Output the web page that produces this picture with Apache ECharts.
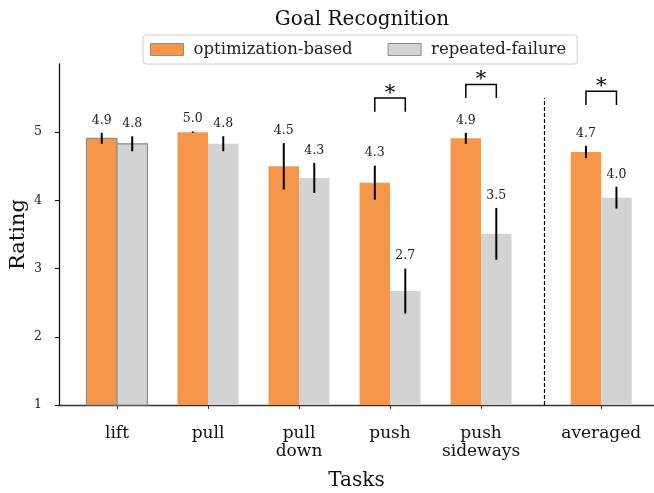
<!DOCTYPE html>
<html>
<head>
<meta charset="utf-8">
<script src="https://cdn.jsdelivr.net/npm/echarts@6/dist/echarts.min.js"></script>
<style>
  html, body { margin: 0; padding: 0; background: #fff; }
  #chart { width: 654px; height: 493px; }
</style>
</head>
<body>
<div id="chart"></div>
<script>
// data
const tasks = ['lift', 'pull', 'pull\ndown', 'push', 'push\nsideways', 'averaged'];
const optimization = [4.91, 5.0, 4.5, 4.26, 4.91, 4.71];
const optimizationErr = [0.08, 0.01, 0.34, 0.25, 0.08, 0.09];
const repeated = [4.83, 4.83, 4.33, 2.67, 3.51, 4.04];
const repeatedErr = [0.11, 0.11, 0.22, 0.33, 0.38, 0.16];
const yTicks = [1, 2, 3, 4, 5];
// significant pairs (task index) and bracket height in rating units
const sigTasks = [3, 4, 5];
const sigHeights = [5.5, 5.7, 5.6];

// layout
const FONT = 'DejaVu Serif';
const ORANGE = '#F5964A';
const GREY = '#D3D3D3';
const BAR_W = 0.335;
const AVG_GAP = 0.32;      // extra space before "averaged"
const DIVIDER_X = 4.69;
const DIVIDER_TOP = 5.5;
const LEG = 0.2;

const pos = tasks.map((t, i) => i + (i === tasks.length - 1 ? AVG_GAP : 0));

const chart = echarts.init(document.getElementById('chart'));

function barRenderer(color, side) {
    return function (params, api) {
        const x = api.value(0), v = api.value(1), e = api.value(2), idx = api.value(3);
        const x0 = side < 0 ? x - BAR_W : x;
        const x1 = side < 0 ? x : x + BAR_W;
        const tl = api.coord([x0, v]);
        const br = api.coord([x1, 1]);
        const cx = api.coord([(x0 + x1) / 2, v])[0];
        const top = api.coord([x, v + e])[1];
        const bot = api.coord([x, v - e])[1];
        const edged = idx === 0;
        return {
            type: 'group',
            children: [
                {
                    type: 'rect',
                    shape: { x: tl[0], y: tl[1], width: br[0] - tl[0], height: br[1] - tl[1] },
                    style: {
                        fill: color,
                        stroke: edged ? '#8c8c8c' : null,
                        lineWidth: edged ? 1.2 : 0
                    }
                },
                {
                    type: 'line',
                    shape: { x1: cx, y1: top, x2: cx, y2: Math.max(bot, top + 1) },
                    style: { stroke: '#000', lineWidth: 2 }
                },
                {
                    type: 'text',
                    style: {
                        x: cx, y: top - 6,
                        text: v.toFixed(1),
                        align: 'center', verticalAlign: 'bottom',
                        font: '12.5px "' + FONT + '"',
                        fill: '#222'
                    }
                }
            ]
        };
    };
}

function bracketRenderer(params, api) {
    const x = api.value(0), h = api.value(1);
    const a = api.coord([x - BAR_W / 2, h]);
    const b = api.coord([x + BAR_W / 2, h]);
    const foot = api.coord([x, h - LEG])[1];
    return {
        type: 'group',
        children: [
            {
                type: 'polyline',
                shape: { points: [[a[0], foot], [a[0], a[1]], [b[0], b[1]], [b[0], foot]] },
                style: { stroke: '#000', lineWidth: 1.5, fill: null }
            },
            {
                type: 'text',
                style: {
                    x: (a[0] + b[0]) / 2, y: a[1] + 6,
                    text: '*', align: 'center', verticalAlign: 'bottom',
                    font: '21px "' + FONT + '"', fill: '#000'
                }
            }
        ]
    };
}

const option = {
    backgroundColor: '#fff',
    animation: false,
    title: {
        text: 'Goal Recognition',
        left: 357,
        top: 5,
        textAlign: 'center',
        textStyle: { fontFamily: FONT, fontSize: 20, fontWeight: 'normal', color: '#111' }
    },
    legend: {
        left: 143,
        top: 35,
        padding: [6, 11, 6, 7],
        itemGap: 35,
        itemWidth: 33,
        itemHeight: 12,
        borderColor: '#d0d0d0',
        borderWidth: 1,
        borderRadius: 3,
        textStyle: { fontFamily: FONT, fontSize: 16.5, color: '#222', padding: [0, 0, 0, 5] },
        data: [
            { name: 'optimization-based', icon: 'rect', itemStyle: { color: ORANGE, borderColor: '#8c8c8c', borderWidth: 1 } },
            { name: 'repeated-failure', icon: 'rect', itemStyle: { color: GREY, borderColor: '#8c8c8c', borderWidth: 1 } }
        ]
    },
    grid: { left: 59, right: 0, top: 64, bottom: 88, outerBoundsMode: 'none' },
    xAxis: {
        type: 'value',
        min: -0.637,
        max: 5.9,
        name: 'Tasks',
        nameLocation: 'middle',
        nameGap: 66,
        nameMoveOverlap: false,
        nameTextStyle: { fontFamily: FONT, fontSize: 20, color: '#111' },
        axisLine: { show: true, onZero: false, lineStyle: { color: '#333', width: 1.3 } },
        axisTick: { show: true, customValues: pos, length: 4, lineStyle: { color: '#333' } },
        axisLabel: {
            customValues: pos,
            margin: 20,
            fontFamily: FONT,
            fontSize: 17,
            lineHeight: 18,
            color: '#111',
            formatter: v => {
                const i = pos.findIndex(p => Math.abs(p - v) < 1e-6);
                return i >= 0 ? tasks[i] : '';
            }
        },
        splitLine: { show: false }
    },
    yAxis: {
        type: 'value',
        min: 1,
        max: 6,
        interval: 1,
        name: 'Rating',
        nameLocation: 'middle',
        nameGap: 30,
        nameMoveOverlap: false,
        nameTextStyle: { fontFamily: FONT, fontSize: 21, color: '#111' },
        axisLine: { show: true, onZero: false, lineStyle: { color: '#111', width: 1.3 } },
        axisTick: { show: true, customValues: yTicks, length: 4, lineStyle: { color: '#111' } },
        axisLabel: { customValues: yTicks, margin: 17, fontFamily: FONT, fontSize: 12.5, color: '#222' },
        splitLine: { show: false }
    },
    series: [
        {
            name: 'optimization-based',
            type: 'custom',
            itemStyle: { color: ORANGE },
            renderItem: barRenderer(ORANGE, -1),
            encode: { x: 0, y: 1 },
            data: optimization.map((v, i) => [pos[i], v, optimizationErr[i], i]),
            markLine: {
                silent: true,
                symbol: 'none',
                label: { show: false },
                lineStyle: { color: '#000', type: [4, 2], width: 1.2 },
                data: [[{ coord: [DIVIDER_X, 1] }, { coord: [DIVIDER_X, DIVIDER_TOP] }]]
            }
        },
        {
            name: 'repeated-failure',
            type: 'custom',
            itemStyle: { color: GREY },
            renderItem: barRenderer(GREY, 1),
            encode: { x: 0, y: 1 },
            data: repeated.map((v, i) => [pos[i], v, repeatedErr[i], i])
        },
        {
            name: 'significance',
            type: 'custom',
            renderItem: bracketRenderer,
            encode: { x: 0, y: 1 },
            data: sigTasks.map((t, k) => [pos[t], sigHeights[k]])
        }
    ]
};

chart.setOption(option);
</script>
</body>
</html>
